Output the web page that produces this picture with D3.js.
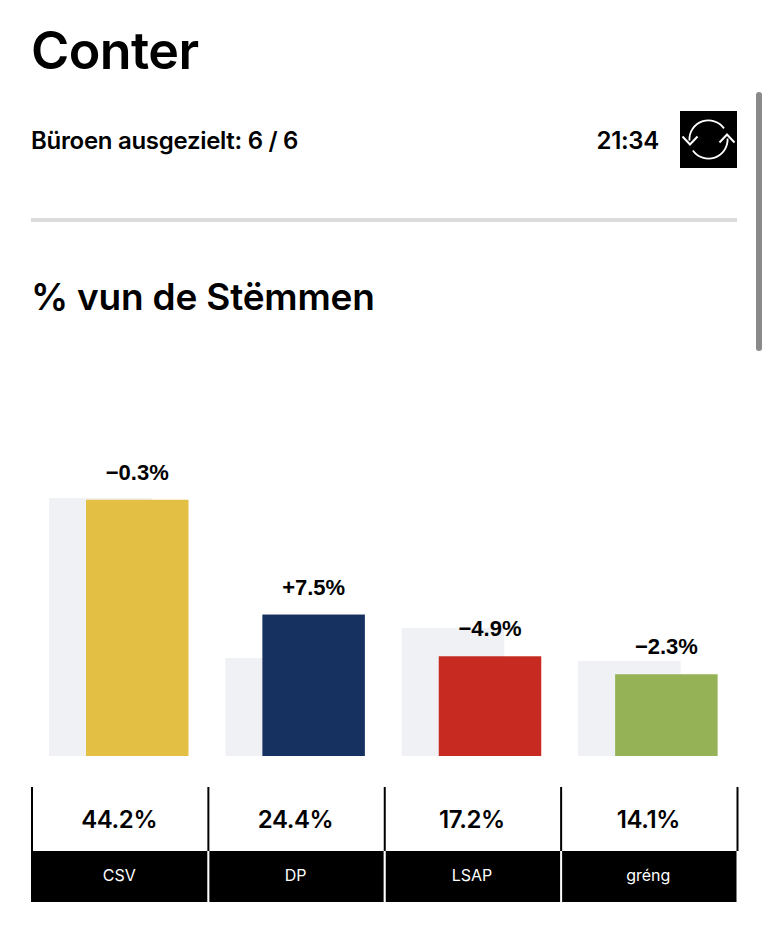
<!DOCTYPE html>
<html>
<head>
<meta charset="utf-8">
<script src="https://cdn.jsdelivr.net/npm/d3@7"></script>
<style>
  html, body { margin: 0; padding: 0; background: #fff; overflow: hidden; }
  svg { display: block; }
  text { font-family: Inter, "Noto Sans", sans-serif; fill: #000; }
</style>
</head>
<body>
<script>
// Data
const parties = ["CSV", "DP", "LSAP", "gréng"];
const votes = [44.2, 24.4, 17.2, 14.1];
const previousVotes = [44.5, 16.9, 22.1, 16.4];
const changes = [-0.3, 7.5, -4.9, -2.3];
const partyColors = ["#e3c044", "#163160", "#c62a20", "#95b356"];

const width = 768;
const height = 929;

const svg = d3.select("body")
  .append("svg")
  .attr("width", width)
  .attr("height", height);

// Header
svg.append("text").attr("x", 31).attr("y", 69)
  .attr("font-size", 52).attr("font-weight", 600).attr("letter-spacing", -0.6)
  .text("Conter");
svg.append("text").attr("x", 31).attr("y", 149)
  .attr("font-size", 24).attr("font-weight", 600).attr("letter-spacing", -0.3)
  .text("Büroen ausgezielt: 6 / 6");
svg.append("text").attr("x", 659).attr("y", 149)
  .attr("text-anchor", "end")
  .attr("font-size", 24).attr("font-weight", 600).attr("letter-spacing", -0.3)
  .text("21:34");

// Refresh button
const icon = svg.append("g").attr("transform", "translate(708.5,139.5)");
icon.append("rect").attr("x", -28.5).attr("y", -28.5)
  .attr("width", 57).attr("height", 57).attr("fill", "#000");
const iconArc = d3.arc().innerRadius(18.2).outerRadius(20);
icon.append("path").attr("fill", "#fff")
  .attr("d", iconArc({ startAngle: -1.62, endAngle: 0.95 }));
icon.append("path").attr("fill", "#fff")
  .attr("d", iconArc({ startAngle: 1.52, endAngle: 4.1 }));
icon.append("path")
  .attr("d", "M-26,-3 L-18.5,5 L-11,-3")
  .attr("fill", "none").attr("stroke", "#fff").attr("stroke-width", 2);
icon.append("path")
  .attr("d", "M11,3 L18.5,-5 L26,3")
  .attr("fill", "none").attr("stroke", "#fff").attr("stroke-width", 2);

// Scrollbar and divider
svg.append("rect").attr("x", 756).attr("y", 92)
  .attr("width", 6).attr("height", 259).attr("rx", 3).attr("fill", "#8a8a8a");
svg.append("rect").attr("x", 31).attr("y", 218)
  .attr("width", 706).attr("height", 4).attr("fill", "#dcdcdc");

svg.append("text").attr("x", 31).attr("y", 310)
  .attr("font-size", 37).attr("font-weight", 600).attr("letter-spacing", -0.2)
  .text("% vun de Stëmmen");

// Scales
const x = d3.scaleBand()
  .domain(parties)
  .range([31, 736.5]);
const y = d3.scaleLinear()
  .domain([0, 44.5])
  .range([756, 498]);

const barWidth = 102.5;
const previousOffset = 18;
const currentOffset = 55;

const groups = svg.selectAll("g.party")
  .data(parties)
  .enter()
  .append("g")
  .attr("class", "party");

// Previous result, behind
groups.append("rect")
  .attr("x", d => x(d) + previousOffset)
  .attr("y", (d, i) => y(previousVotes[i]))
  .attr("width", barWidth)
  .attr("height", (d, i) => y(0) - y(previousVotes[i]))
  .attr("fill", "#eff1f4");

// Current result
groups.append("rect")
  .attr("x", d => x(d) + currentOffset)
  .attr("y", (d, i) => y(votes[i]))
  .attr("width", barWidth)
  .attr("height", (d, i) => y(0) - y(votes[i]))
  .attr("fill", (d, i) => partyColors[i]);

// Change labels
const formatChange = d3.format("+.1f");
groups.append("text")
  .attr("x", d => x(d) + currentOffset + barWidth / 2)
  .attr("y", (d, i) => y(votes[i]) - 20)
  .attr("text-anchor", "middle")
  .attr("font-family", "Liberation Sans")
  .style("font-family", "'Liberation Sans'")
  .attr("font-size", 22)
  .attr("font-weight", 700)
  .text((d, i) => formatChange(changes[i]) + "%");

// Table under the bars
const tableTop = 787;
const nameTop = 851;
const tableBottom = 902;

groups.append("rect")
  .attr("x", d => x(d))
  .attr("y", nameTop)
  .attr("width", x.bandwidth())
  .attr("height", tableBottom - nameTop)
  .attr("fill", "#000");

svg.selectAll("line.cell")
  .data(x.domain().map(d => x(d)).concat(x.range()[1]))
  .enter()
  .append("line")
  .attr("class", "cell")
  .attr("x1", d => d + 1)
  .attr("x2", d => d + 1)
  .attr("y1", tableTop)
  .attr("y2", nameTop)
  .attr("stroke", "#000")
  .attr("stroke-width", 2);

svg.selectAll("line.gap")
  .data(parties.slice(1))
  .enter()
  .append("line")
  .attr("class", "gap")
  .attr("x1", d => x(d) + 1)
  .attr("x2", d => x(d) + 1)
  .attr("y1", nameTop)
  .attr("y2", tableBottom)
  .attr("stroke", "#fff")
  .attr("stroke-width", 2);

groups.append("text")
  .attr("x", d => x(d) + x.bandwidth() / 2)
  .attr("y", 828)
  .attr("text-anchor", "middle")
  .attr("font-size", 24)
  .attr("font-weight", 600)
  .attr("letter-spacing", -0.4)
  .text((d, i) => votes[i].toFixed(1) + "%");

groups.append("text")
  .attr("x", d => x(d) + x.bandwidth() / 2)
  .attr("y", 881)
  .attr("text-anchor", "middle")
  .attr("font-size", 16)
  .style("fill", "#fff")
  .text(d => d);
</script>
</body>
</html>
